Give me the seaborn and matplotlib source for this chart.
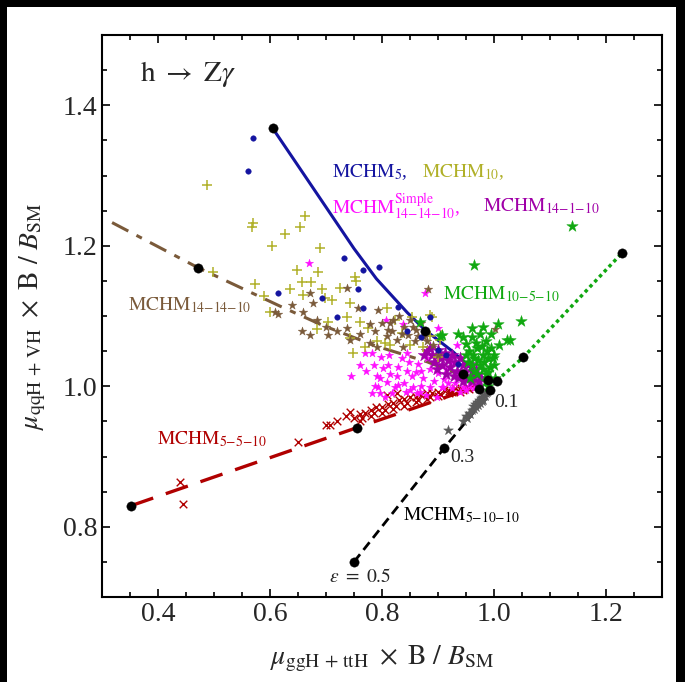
import matplotlib
matplotlib.use("Agg")
import matplotlib.pyplot as plt
from matplotlib.patches import Rectangle
import seaborn as sns


# DANE ODCZYTANE Z WYKRESU
# linie modeli (epsilon od 0.5 do 0.1)
blue_line_x = [0.605, 0.65, 0.70, 0.75, 0.79, 0.845, 0.877, 0.927, 0.975, 0.99]
blue_line_y = [1.367, 1.314, 1.255, 1.196, 1.153, 1.105, 1.080, 1.049, 1.014, 1.008]

brown_line_x = [0.318, 0.471, 0.618, 0.693, 0.79, 0.88, 0.975]
brown_line_y = [1.233, 1.169, 1.114, 1.087, 1.057, 1.035, 1.005]

red_line_x = [0.352, 0.755, 0.975]
red_line_y = [0.830, 0.941, 1.001]

black_line_x = [0.75, 0.911, 0.993]
black_line_y = [0.75, 0.912, 0.991]

green_line_x = [1.005, 1.052, 1.229]
green_line_y = [1.008, 1.041, 1.190]

# punkty skanu
mchm5_x = [0.570, 0.561, 0.732, 0.766, 0.795, 0.615, 0.693, 0.720, 0.757, 0.766,
           0.829, 0.886, 0.845, 0.900, 0.870, 0.915, 0.935]
mchm5_y = [1.354, 1.307, 1.182, 1.165, 1.170, 1.133, 1.125, 1.099, 1.138, 1.112,
           1.113, 1.099, 1.078, 1.052, 1.070, 1.045, 1.032]

mchm10_x = [0.4875, 0.568, 0.570, 0.604, 0.627, 0.654, 0.6625, 0.689, 0.498, 0.648,
            0.686, 0.752, 0.657, 0.673, 0.636, 0.693, 0.725, 0.7536, 0.659, 0.698,
            0.711, 0.743, 0.573, 0.684, 0.704, 0.7375, 0.761, 0.809, 0.775, 0.748,
            0.770, 0.791, 0.814, 0.836, 0.850, 0.873, 0.889, 0.904, 0.743, 0.805,
            0.823, 0.854, 0.886, 0.886, 0.907, 0.900, 0.590, 0.600]
mchm10_y = [1.286, 1.227, 1.232, 1.200, 1.217, 1.227, 1.242, 1.197, 1.162, 1.165,
            1.162, 1.155, 1.148, 1.148, 1.138, 1.138, 1.140, 1.150, 1.130, 1.126,
            1.123, 1.119, 1.145, 1.081, 1.092, 1.098, 1.092, 1.112, 1.083, 1.048,
            1.056, 1.064, 1.059, 1.076, 1.059, 1.056, 1.099, 1.066, 1.069, 1.062,
            1.095, 1.098, 1.102, 1.071, 1.073, 1.042, 1.128, 1.105]

mchm141410_x = [0.609, 0.615, 0.659, 0.671, 0.677, 0.657, 0.671, 0.704, 0.684, 0.700,
                0.7375, 0.7375, 0.743, 0.757, 0.793, 0.779, 0.7875, 0.779, 0.791, 0.809,
                0.818, 0.827, 0.8375, 0.846, 0.859, 0.880, 0.891, 0.800, 0.820, 0.840,
                0.860, 0.870, 0.850, 0.830, 0.810, 0.882, 0.900, 0.760, 0.720, 0.640,
                1.002, 0.865, 0.875, 0.855, 0.835, 0.815]
mchm141410_y = [1.106, 1.103, 1.106, 1.133, 1.119, 1.078, 1.073, 1.073, 1.095, 1.085,
                1.083, 1.140, 1.066, 1.112, 1.109, 1.088, 1.078, 1.062, 1.056, 1.071,
                1.078, 1.066, 1.056, 1.073, 1.064, 1.064, 1.059, 1.090, 1.095, 1.085,
                1.080, 1.090, 1.095, 1.100, 1.080, 1.138, 1.045, 1.075, 1.078, 1.115,
                1.082, 1.072, 1.070, 1.085, 1.075, 1.090]

simple_x = [0.6696, 0.770, 0.782, 0.798, 0.807, 0.8375, 0.791, 0.796, 0.809, 0.793,
            0.782, 0.829, 0.829, 0.845, 0.854, 0.873, 0.886, 0.898, 0.900, 0.845,
            0.864, 0.850, 0.868, 0.886, 0.907, 0.898, 0.802, 0.827, 0.823, 0.855,
            0.900, 0.909, 0.925, 0.945, 0.957, 0.939, 0.934, 0.925, 0.796, 0.877,
            0.910, 0.930, 0.870, 0.840, 0.860, 0.880, 0.915, 0.950, 0.965, 0.810,
            0.760, 0.772, 0.785, 0.815, 0.835, 0.805, 0.818, 0.842, 0.862, 0.878,
            0.893, 0.917, 0.940, 0.955, 0.970, 0.812, 0.848, 0.870, 0.788, 0.745]
simple_y = [1.175, 1.048, 1.048, 1.041, 1.095, 1.089, 1.014, 1.012, 1.006, 0.999,
            0.991, 1.002, 1.028, 1.021, 1.014, 1.012, 1.024, 1.038, 1.083, 1.048,
            1.031, 0.995, 0.992, 0.999, 0.999, 0.985, 1.026, 1.014, 0.999, 0.999,
            1.019, 0.999, 0.998, 0.999, 1.006, 1.014, 1.059, 1.035, 0.991, 1.133,
            1.010, 1.005, 1.000, 1.005, 1.020, 1.040, 1.025, 0.995, 0.998, 1.030,
            1.030, 1.022, 1.030, 1.018, 1.040, 0.985, 0.990, 0.992, 0.990, 0.988,
            1.008, 1.005, 0.992, 1.000, 1.003, 1.045, 1.035, 1.022, 1.000, 1.015]

mchm14110_x = [0.886, 0.890, 0.893, 0.900, 0.905, 0.908, 0.912, 0.918, 0.922, 0.925,
               0.930, 0.934, 0.937, 0.940, 0.944, 0.948, 0.952, 0.955, 0.960, 0.963,
               0.967, 0.970, 0.973, 0.977, 0.915, 0.928, 0.898, 0.945, 0.960, 0.880,
               0.875]
mchm14110_y = [1.055, 1.045, 1.035, 1.052, 1.040, 1.030, 1.048, 1.038, 1.027, 1.045,
               1.035, 1.022, 1.013, 1.040, 1.030, 1.020, 1.011, 1.032, 1.022, 1.013,
               1.024, 1.016, 1.008, 1.012, 1.018, 1.015, 1.025, 1.008, 1.007, 1.050,
               1.045]

mchm10510_x = [0.950, 0.955, 0.960, 0.965, 0.970, 0.975, 0.980, 0.985, 0.990, 0.990,
               0.995, 1.000, 1.002, 0.985, 0.970, 0.960, 0.950, 0.945, 0.975, 0.980,
               0.965, 0.995, 1.000, 0.990, 0.958, 0.968, 0.978, 0.988, 0.998, 0.972,
               0.962, 0.982, 0.992, 0.953, 0.986,
               1.139, 0.964, 1.048, 1.007, 0.936, 0.904, 0.868, 0.961, 1.023, 1.029,
               0.907, 0.980, 1.009]
mchm10510_y = [1.060, 1.050, 1.070, 1.040, 1.055, 1.030, 1.045, 1.065, 1.020, 1.040,
               1.055, 1.030, 1.012, 1.008, 1.018, 1.030, 1.045, 1.070, 1.075, 1.025,
               1.022, 1.075, 1.045, 1.000, 1.012, 1.062, 1.058, 1.050, 1.040, 1.038,
               1.045, 1.035, 1.028, 1.035, 1.018,
               1.2275, 1.172, 1.093, 1.089, 1.075, 1.072, 1.091, 1.083, 1.066, 1.066,
               1.073, 1.085, 1.059]

mchm5510_x = [0.439, 0.445, 0.650, 0.700, 0.707, 0.720, 0.735, 0.743, 0.750, 0.760,
              0.770, 0.780, 0.790, 0.800, 0.810, 0.820, 0.830, 0.840, 0.850, 0.860,
              0.870, 0.880, 0.890, 0.900, 0.910, 0.920, 0.930, 0.940, 0.950, 0.960,
              0.970, 0.809, 0.827, 0.760, 0.780, 0.800, 0.820, 0.840, 0.860, 0.880,
              0.900, 0.920, 0.940, 0.765, 0.785, 0.805, 0.825, 0.845, 0.865, 0.885,
              0.905, 0.925, 0.945, 0.955, 0.965]
mchm5510_y = [0.864, 0.833, 0.921, 0.945, 0.945, 0.950, 0.958, 0.964, 0.955, 0.960,
              0.962, 0.966, 0.970, 0.971, 0.975, 0.976, 0.980, 0.982, 0.985, 0.984,
              0.988, 0.990, 0.990, 0.992, 0.995, 0.993, 0.997, 0.996, 0.999, 1.000,
              1.000, 0.988, 0.991, 0.950, 0.958, 0.962, 0.968, 0.972, 0.977, 0.982,
              0.986, 0.990, 0.992, 0.955, 0.962, 0.966, 0.972, 0.976, 0.980, 0.985,
              0.988, 0.992, 0.995, 0.996, 0.998]

mchm51010_x = [0.918, 0.945, 0.950, 0.955, 0.958, 0.960, 0.962, 0.966, 0.968, 0.970,
               0.973, 0.975, 0.976, 0.979, 0.980, 0.982, 0.985, 0.988, 0.990, 0.952,
               0.964, 0.971, 0.978, 0.984]
mchm51010_y = [0.938, 0.950, 0.958, 0.962, 0.960, 0.966, 0.972, 0.975, 0.970, 0.978,
               0.980, 0.976, 0.983, 0.985, 0.980, 0.987, 0.990, 0.992, 0.995, 0.955,
               0.968, 0.973, 0.979, 0.986]

eps_x = [0.605, 0.471, 0.352, 0.755, 0.750, 0.911, 1.052, 1.229, 0.877, 0.945,
         0.989, 1.005, 0.973, 0.993]
eps_y = [1.367, 1.169, 0.830, 0.941, 0.750, 0.912, 1.041, 1.190, 1.078, 1.018,
         1.009, 1.008, 0.996, 0.994]

# KOLORY
BLUE = '#1414a0'
OLIVE = '#b0b028'
BROWN = '#7a5a3a'
MAGENTA = '#ff10ff'
PURPLE = '#a000a8'
GREEN = '#10a810'
RED = '#b00000'
GRAY = '#5a5a5a'

sns.set_style("ticks")
plt.rcParams['font.family'] = ['Liberation Serif', 'DejaVu Serif']
plt.rcParams['mathtext.fontset'] = 'stix'

fig, ax = plt.subplots(figsize=(6.85, 6.82), dpi=100)
fig.patch.set_facecolor('white')
# czarne marginesy jak na oryginalnym zrzucie
for r in [(0, 1 - 7 / 682, 1, 7 / 682), (0, 0, 7 / 685, 1), (676 / 685, 0, 9 / 685, 1)]:
    fig.patches.append(Rectangle(r[:2], r[2], r[3], transform=fig.transFigure,
                                 facecolor='black', edgecolor='none'))
fig.subplots_adjust(left=102 / 685, right=662 / 685, bottom=85 / 682, top=647 / 682)

# linie
sns.lineplot(x=blue_line_x, y=blue_line_y, sort=False, estimator=None, ax=ax,
             color=BLUE, lw=2.2, zorder=2)
sns.lineplot(x=brown_line_x, y=brown_line_y, sort=False, estimator=None, ax=ax,
             color=BROWN, lw=2.2, dashes=(6, 3, 2, 3), zorder=2)
sns.lineplot(x=red_line_x, y=red_line_y, sort=False, estimator=None, ax=ax,
             color=RED, lw=2.4, dashes=(7, 4), zorder=2)
sns.lineplot(x=black_line_x, y=black_line_y, sort=False, estimator=None, ax=ax,
             color='black', lw=2.0, dashes=(3.5, 2), zorder=2)
sns.lineplot(x=green_line_x, y=green_line_y, sort=False, estimator=None, ax=ax,
             color=GREEN, lw=2.5, dashes=(1, 1), zorder=2)

# punkty
sns.scatterplot(x=mchm5510_x, y=mchm5510_y, marker='x', s=30, color=RED,
                linewidth=1.0, ax=ax, zorder=3)
sns.scatterplot(x=mchm51010_x, y=mchm51010_y, marker='*', s=55, color=GRAY,
                edgecolor=GRAY, linewidth=0.3, ax=ax, zorder=3)
sns.scatterplot(x=simple_x, y=simple_y, marker='*', s=38, color=MAGENTA,
                edgecolor=MAGENTA, linewidth=0.3, ax=ax, zorder=3)
sns.scatterplot(x=mchm14110_x, y=mchm14110_y, marker='*', s=90, color=PURPLE,
                edgecolor=PURPLE, linewidth=0.3, ax=ax, zorder=3)
sns.scatterplot(x=mchm10_x, y=mchm10_y, marker='+', s=60, color=OLIVE,
                linewidth=1.1, ax=ax, zorder=3)
sns.scatterplot(x=mchm141410_x, y=mchm141410_y, marker='*', s=42, color=BROWN,
                edgecolor=BROWN, linewidth=0.3, ax=ax, zorder=3)
sns.scatterplot(x=mchm5_x, y=mchm5_y, marker='o', s=16, color=BLUE,
                edgecolor=BLUE, linewidth=0.3, ax=ax, zorder=4)
sns.scatterplot(x=mchm10510_x, y=mchm10510_y, marker='*', s=75, color=GREEN,
                edgecolor=GREEN, linewidth=0.3, ax=ax, zorder=3)
sns.scatterplot(x=eps_x, y=eps_y, marker='o', s=45, color='black',
                edgecolor='black', linewidth=0.3, ax=ax, zorder=5)

# opisy
lab = dict(fontsize=14, va='center', ha='left')
ax.text(0.368, 1.444, r'$\mathrm{h}\ \rightarrow\ \mathrm{Z}\gamma$', fontsize=21,
        va='center', ha='left')
ax.text(0.7107, 1.3044, r'$\mathrm{MCHM}_{5}$,', color=BLUE, **lab)
ax.text(0.872, 1.3044, r'$\mathrm{MCHM}_{10}$,', color=OLIVE, **lab)
ax.text(0.7107, 1.256, r'$\mathrm{MCHM}^{\mathrm{Simple}}_{14{-}14{-}10}$,', color=MAGENTA, **lab)
ax.text(0.980, 1.256, r'$\mathrm{MCHM}_{14{-}1{-}10}$', color=PURPLE, **lab)
ax.text(0.909, 1.1305, r'$\mathrm{MCHM}_{10{-}5{-}10}$', color=GREEN, **lab)
ax.text(0.346, 1.116, r'$\mathrm{MCHM}_{14{-}14{-}10}$', color=BROWN, **lab)
ax.text(0.398, 0.924, r'$\mathrm{MCHM}_{5{-}5{-}10}$', color=RED, **lab)
ax.text(0.8375, 0.817, r'$\mathrm{MCHM}_{5{-}10{-}10}$', color='black', **lab)
ax.text(0.7607, 0.7285, r'$\epsilon\ =\ 0.5$', fontsize=14, ha='center', va='center')
ax.text(0.943, 0.898, '0.3', fontsize=14, ha='center', va='center')
ax.text(1.023, 0.9766, '0.1', fontsize=14, ha='center', va='center')

# osie
ax.set_xlim(0.3, 1.3)
ax.set_ylim(0.7, 1.5)
ax.set_xticks([0.4, 0.6, 0.8, 1.0, 1.2])
ax.set_yticks([0.8, 1.0, 1.2, 1.4])
ax.set_xticks([x / 100 for x in range(30, 131, 5)], minor=True)
ax.set_yticks([y / 100 for y in range(70, 151, 5)], minor=True)
ax.tick_params(which='both', direction='in', top=True, right=True,
               labelsize=20, width=1.2, color='black')
ax.tick_params(which='major', length=6)
ax.tick_params(which='minor', length=3.5)
for sp in ax.spines.values():
    sp.set_linewidth(1.5)
    sp.set_color('black')

ax.set_xlabel(r'$\mu_{\mathrm{ggH\,+\,ttH}}\ \times\ \mathrm{B}\ /\ B_{\mathrm{SM}}$',
              fontsize=20, labelpad=12)
ax.set_ylabel(r'$\mu_{\mathrm{qqH\,+\,VH}}\ \times\ \mathrm{B}\ /\ B_{\mathrm{SM}}$',
              fontsize=20, labelpad=10)

fig.savefig('out.png', dpi=100, facecolor=fig.get_facecolor())
